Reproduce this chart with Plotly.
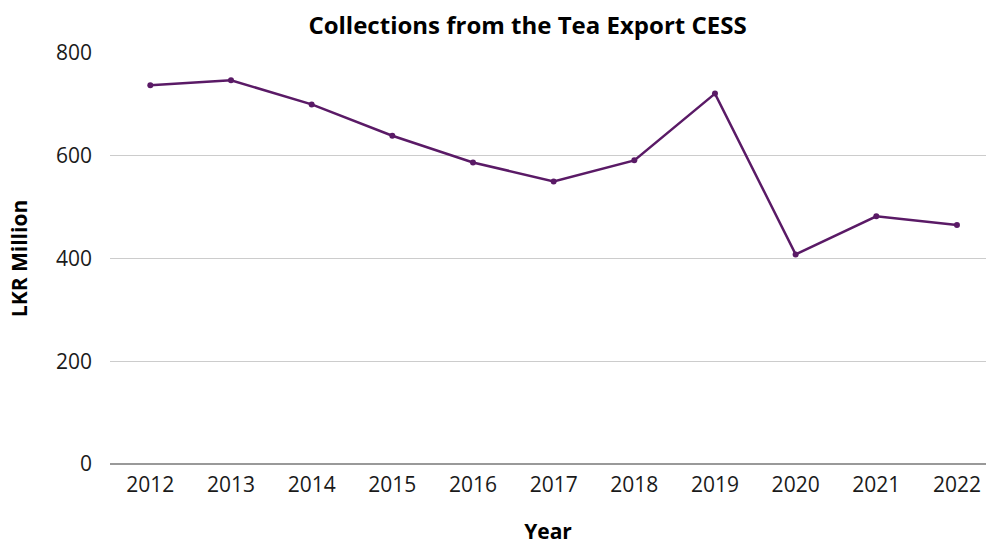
import plotly.graph_objects as go

# Tea export CESS collections, LKR million
years = ["2012", "2013", "2014", "2015", "2016", "2017", "2018", "2019", "2020", "2021", "2022"]
collections = [737, 747, 700, 639, 587, 550, 591, 721, 408, 482, 465]

font_family = "Open Sans, sans-serif"
line_color = "#5A1A66"

fig = go.Figure(
    go.Scatter(
        x=years,
        y=collections,
        mode="lines+markers",
        line=dict(color=line_color, width=2.5),
        marker=dict(color=line_color, size=6),
        showlegend=False,
    )
)

fig.update_layout(
    width=986,
    height=545,
    margin=dict(l=110, r=0, t=53, b=81),
    paper_bgcolor="white",
    plot_bgcolor="white",
    font=dict(family=font_family, size=21, color="#1a1a1a"),
    title=dict(
        text="<b>Collections from the Tea Export CESS</b>",
        x=0.535,
        xanchor="center",
        y=0.953,
        yanchor="middle",
        font=dict(family=font_family, size=24, color="#000"),
    ),
)

fig.update_xaxes(
    type="category",
    range=[-0.5, 10.36],
    automargin=False,
    showgrid=False,
    showline=False,
    ticks="",
    ticklabelstandoff=6,
    tickfont=dict(size=21, color="#1a1a1a"),
    title=dict(text="<b>Year</b>", font=dict(size=21, color="#000"), standoff=40),
)

fig.update_yaxes(
    range=[0, 800],
    tickvals=[0, 200, 400, 600, 800],
    automargin=False,
    showgrid=True,
    gridcolor="#CCCCCC",
    gridwidth=1,
    zeroline=True,
    zerolinecolor="#999999",
    zerolinewidth=1.5,
    showline=False,
    ticks="",
    ticklabelstandoff=17,
    tickfont=dict(size=21, color="#1a1a1a"),
    title=dict(text="<b>LKR Million</b>", font=dict(size=21, color="#000"), standoff=22),
)

fig.write_html("out.html")
